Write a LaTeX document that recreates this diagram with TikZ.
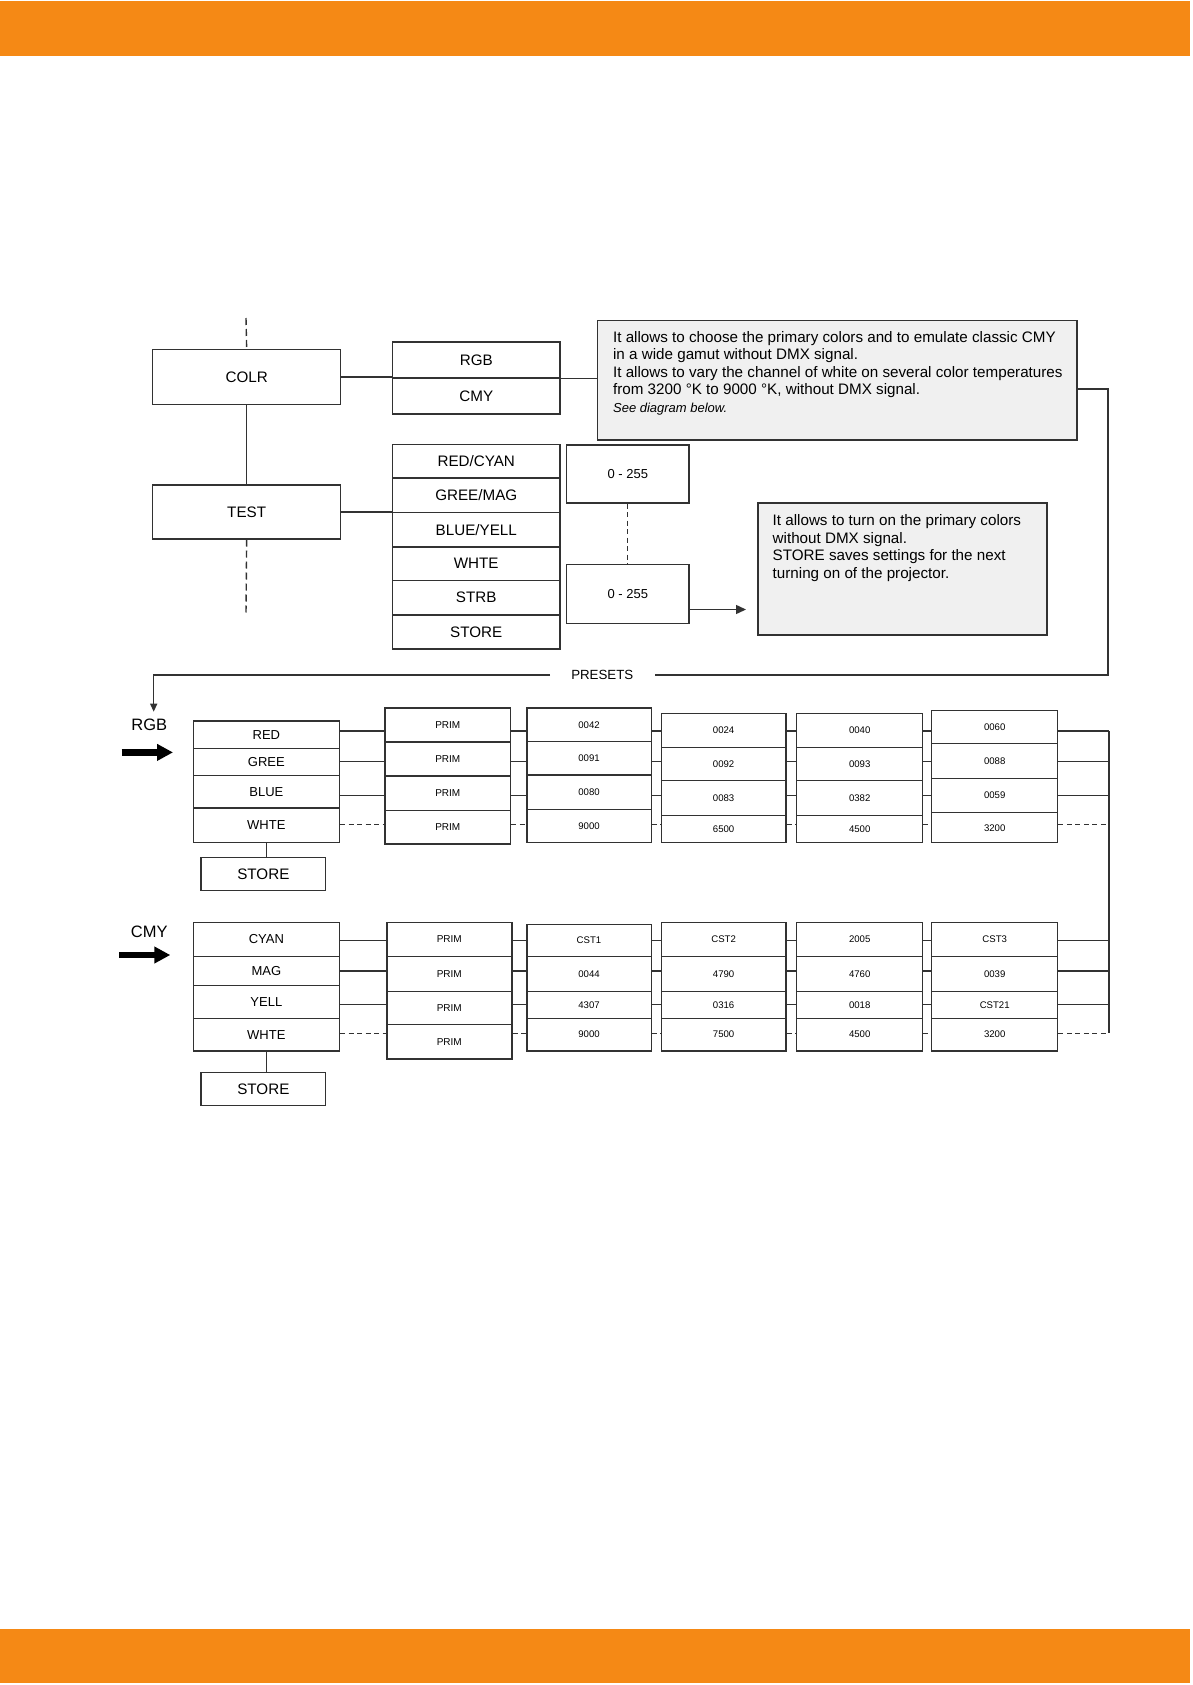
\documentclass[tikz,border=0pt]{standalone}
\usepackage{fontspec}
\setmainfont{Liberation Sans}
\usetikzlibrary{arrows.meta}
\definecolor{bandor}{RGB}{245,137,21}
\definecolor{ln}{RGB}{50,50,50}
\definecolor{infofill}{RGB}{240,240,240}
\newcommand\fbig{\fontsize{15.2}{18}\selectfont}
\newcommand\fmid{\fontsize{13}{15}\selectfont}
\newcommand\fnum{\fontsize{9.6}{11}\selectfont}
\newcommand\fprim{\fontsize{10}{12}\selectfont}
\newcommand\flab{\fontsize{16.5}{19}\selectfont}
\newcommand\mkcell[7][]{\node[cell,#1,minimum width={#5pt-#3pt},minimum height={#6pt-#4pt}] (#2) at ({(#3+#5)/2},{(#4+#6)/2}) {#7};}
\begin{document}
\begin{tikzpicture}[x=1pt,y=-1pt,
  cell/.style={draw=ln,line width=1.4pt,inner sep=0pt,text=black},
  big/.style={font=\fbig},
  mid/.style={font=\fmid},
  num/.style={font=\fnum},
  prim/.style={font=\fprim},
  info/.style={fill=infofill},
  infotext/.style={inner sep=0pt,align=left,anchor=north west,text=black,font=\fontsize{15.2}{17.5}\selectfont},
  conn/.style={draw=ln,line width=1.4pt},
  dconn/.style={draw=ln,line width=1.4pt,dash pattern=on 5pt off 3.5pt},
  tdash/.style={draw=ln,line width=1.4pt,dash pattern=on 7pt off 4pt}
]
\useasboundingbox (0,0) rectangle (1192,1685);
% bands
\fill[bandor] (0,1) rectangle (1190,56);
\fill[bandor] (0,1629) rectangle (1190,1683);

% ---------- top part ----------
\mkcell[big]{colr}{152.6}{349.5}{340.7}{404.2}{COLR}
\mkcell[big]{test}{152.6}{484.8}{340.7}{538.8}{TEST}
\mkcell[big]{rgb}{392.5}{342}{560}{378}{RGB}
\mkcell[big]{cmy}{392.5}{378}{560}{414}{CMY}
\mkcell[big]{lred}{392.5}{444.3}{560}{478}{RED/CYAN}
\mkcell[big]{lgre}{392.5}{478}{560}{512.5}{GREE/MAG}
\mkcell[big]{lblu}{392.5}{512.5}{560}{547}{BLUE/YELL}
\mkcell[big]{lwht}{392.5}{547}{560}{580.4}{WHTE}
\mkcell[big]{lstr}{392.5}{580.4}{560}{614.8}{STRB}
\mkcell[big]{lsto}{392.5}{614.8}{560}{648.8}{STORE}
\mkcell[mid]{va}{566.5}{445}{689}{503}{0 - 255}
\mkcell[mid]{vb}{566.5}{564.3}{689}{623.4}{0 - 255}
\mkcell[info]{info1}{597.6}{320.5}{1077}{439.8}{}
\mkcell[info]{info2}{757.8}{503}{1047}{635}{}
\node[infotext] (info1t) at (612.9,331) {It allows to choose the primary colors and to emulate classic CMY\\in a wide gamut without DMX signal.\\It allows to vary the channel of white on several color temperatures\\from 3200 °K to 9000 °K, without DMX signal.\\{\fontsize{13}{17.5}\selectfont\itshape See diagram below.}};
\node[infotext] (info2t) at (772.5,514.4) {It allows to turn on the primary colors\\without DMX signal.\\STORE saves settings for the next\\turning on of the projector.};

\coordinate (dtop) at (246,318);
\coordinate (dbot) at (246,613.8);
\draw[tdash] (dtop) -- (colr.north);
\draw[tdash] (test.south) -- (dbot);
\draw[conn] (colr.south) -- (test.north);
\draw[conn] (colr.east) -- (colr.east -| rgb.west);
\draw[conn] (rgb.south east) -- (rgb.south east -| info1.west);
\draw[conn] (test.east) -- (test.east -| lred.west);
\draw[dconn] (va.south) -- (vb.north);
\coordinate (ai) at (746,609.5);
\draw[conn,-{Triangle[length=10pt,width=9pt]}] (vb.east |- ai) -- (ai);

\node[inner xsep=21pt,inner ysep=0pt,font=\fontsize{13.3}{15}\selectfont,text=black] (presets) at (602.3,675) {PRESETS};
\coordinate (k1) at (1108,389);
\coordinate (k2) at (1108,675);
\coordinate (k3) at (153.7,675);
\coordinate (k4) at (153.7,711.7);
\draw[conn] (info1.east |- k1) -- (k1) -- (k2) -- (presets.east);
\draw[conn,-{Triangle[length=8pt,width=7pt]}] (presets.west) -- (k3) -- (k4);

% ---------- RGB presets ----------
\node[font=\flab,inner sep=0pt,text=black] (lrgb) at (149.3,725) {RGB};
\coordinate (fa1) at (121.5,752.4);
\coordinate (fa2) at (173,752.4);
\draw[line width=6.7pt,draw=black,-{Triangle[length=16pt,width=16pt]}] (fa1) -- (fa2);

\mkcell[mid]{gA1}{193.2}{721}{339.5}{748.5}{RED}
\mkcell[mid]{gA2}{193.2}{748.5}{339.5}{775.5}{GREE}
\mkcell[mid]{gA3}{193.2}{775.5}{339.5}{808}{BLUE}
\mkcell[mid]{gA4}{193.2}{808}{339.5}{842.5}{WHTE}
\mkcell[big]{stoA}{201}{857.3}{325.7}{890.7}{STORE}

\mkcell[prim]{pA1}{385}{708}{510.5}{742}{PRIM}
\mkcell[prim]{pA2}{385}{742}{510.5}{776}{PRIM}
\mkcell[prim]{pA3}{385}{776}{510.5}{810.5}{PRIM}
\mkcell[prim]{pA4}{385}{810.5}{510.5}{843.8}{PRIM}

\mkcell[num]{aA1}{526.8}{708}{651.2}{741.7}{0042}
\mkcell[num]{aA2}{526.8}{741.7}{651.2}{775}{0091}
\mkcell[num]{aA3}{526.8}{775}{651.2}{809.3}{0080}
\mkcell[num]{aA4}{526.8}{809.3}{651.2}{842.3}{9000}

\mkcell[num]{bA1}{661.3}{713.5}{786}{747.7}{0024}
\mkcell[num]{bA2}{661.3}{747.7}{786}{780.7}{0092}
\mkcell[num]{bA3}{661.3}{780.7}{786}{815.3}{0083}
\mkcell[num]{bA4}{661.3}{815.3}{786}{842.7}{6500}

\mkcell[num]{cA1}{796.7}{713.5}{922.7}{747.7}{0040}
\mkcell[num]{cA2}{796.7}{747.7}{922.7}{780.7}{0093}
\mkcell[num]{cA3}{796.7}{780.7}{922.7}{815.3}{0382}
\mkcell[num]{cA4}{796.7}{815.3}{922.7}{842.7}{4500}

\mkcell[num]{dA1}{931.7}{710.7}{1057.7}{743.3}{0060}
\mkcell[num]{dA2}{931.7}{743.3}{1057.7}{778.3}{0088}
\mkcell[num]{dA3}{931.7}{778.3}{1057.7}{812.7}{0059}
\mkcell[num]{dA4}{931.7}{812.7}{1057.7}{842.7}{3200}

% ---------- CMY presets ----------
\node[font=\flab,inner sep=0pt,text=black] (lcmy) at (149.3,931.7) {CMY};
\coordinate (fb1) at (119.3,955);
\coordinate (fb2) at (170.3,955);
\draw[line width=6.7pt,draw=black,-{Triangle[length=16pt,width=16pt]}] (fb1) -- (fb2);

\mkcell[mid]{gB1}{193.2}{922.3}{339.5}{956.7}{CYAN}
\mkcell[mid]{gB2}{193.2}{956.7}{339.5}{985.3}{MAG}
\mkcell[mid]{gB3}{193.2}{985.3}{339.5}{1018.3}{YELL}
\mkcell[mid]{gB4}{193.2}{1018.3}{339.5}{1051}{WHTE}
\mkcell[big]{stoB}{201}{1072.3}{325.7}{1105.7}{STORE}

\mkcell[prim]{pB1}{386.8}{922.3}{511.8}{956.7}{PRIM}
\mkcell[prim]{pB2}{386.8}{956.7}{511.8}{991.7}{PRIM}
\mkcell[prim]{pB3}{386.8}{991.7}{511.8}{1024.3}{PRIM}
\mkcell[prim]{pB4}{386.8}{1024.3}{511.8}{1059}{PRIM}

\mkcell[num]{aB1}{526.8}{924.3}{651.2}{956.7}{CST1}
\mkcell[num]{aB2}{526.8}{956.7}{651.2}{991.7}{0044}
\mkcell[num]{aB3}{526.8}{991.7}{651.2}{1018.3}{4307}
\mkcell[num]{aB4}{526.8}{1018.3}{651.2}{1051}{9000}

\mkcell[num]{bB1}{661.3}{922.3}{786}{956.7}{CST2}
\mkcell[num]{bB2}{661.3}{956.7}{786}{991.7}{4790}
\mkcell[num]{bB3}{661.3}{991.7}{786}{1018.3}{0316}
\mkcell[num]{bB4}{661.3}{1018.3}{786}{1051}{7500}

\mkcell[num]{cB1}{796.7}{922.3}{922.7}{956.7}{2005}
\mkcell[num]{cB2}{796.7}{956.7}{922.7}{991.7}{4760}
\mkcell[num]{cB3}{796.7}{991.7}{922.7}{1018.3}{0018}
\mkcell[num]{cB4}{796.7}{1018.3}{922.7}{1051}{4500}

\mkcell[num]{dB1}{931.7}{922.3}{1057.7}{956.7}{CST3}
\mkcell[num]{dB2}{931.7}{956.7}{1057.7}{991.7}{0039}
\mkcell[num]{dB3}{931.7}{991.7}{1057.7}{1018.3}{CST21}
\mkcell[num]{dB4}{931.7}{1018.3}{1057.7}{1051}{3200}

% row coordinates
\coordinate (rA1) at (1109,731);
\coordinate (rA2) at (1109,761.5);
\coordinate (rA3) at (1109,795.7);
\coordinate (rA4) at (1109,824.3);
\coordinate (rB1) at (1109,940.5);
\coordinate (rB2) at (1109,970.8);
\coordinate (rB3) at (1109,1004.3);
\coordinate (rB4) at (1109,1033.3);

\foreach \grp in {A,B}{
  \foreach \rw in {1,2,3}{
    \foreach \ca/\cb in {g/p,p/a,a/b,b/c,c/d}{
      \draw[conn] (\ca\grp\rw.east |- r\grp\rw) -- (\cb\grp\rw.west |- r\grp\rw);
    }
    \draw[conn] (d\grp\rw.east |- r\grp\rw) -- (r\grp\rw);
  }
  \foreach \ca/\cb in {g/p,p/a,a/b,b/c,c/d}{
    \draw[dconn] (\ca\grp4.east |- r\grp4) -- (\cb\grp4.west |- r\grp4);
  }
  \draw[dconn] (d\grp4.east |- r\grp4) -- (r\grp4);
}
\draw[conn] (rA1) -- (rB4);
\draw[conn] (gA4.south) -- (gA4.south |- stoA.north);
\draw[conn] (gB4.south) -- (gB4.south |- stoB.north);
\end{tikzpicture}
\end{document}
